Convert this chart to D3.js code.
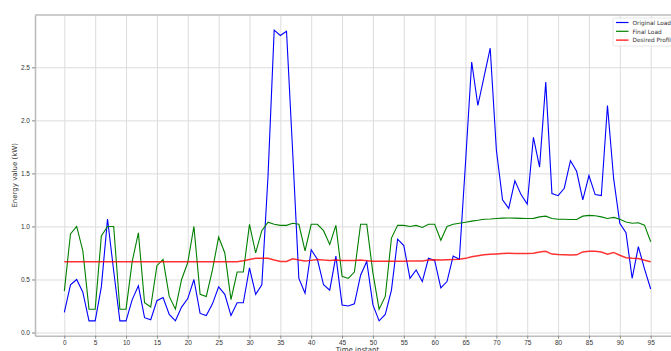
<!DOCTYPE html>
<html>
<head>
<meta charset="utf-8">
<script src="https://cdn.jsdelivr.net/npm/d3@7"></script>
<style>
  body { margin: 0; background: #fff; }
  svg { display: block; font-family: "DejaVu Sans", sans-serif; }
  .axis text { fill: #333; font-size: 6.5px; }
  .axis path { stroke: #bdbdbd; stroke-width: 1.6; }
  .axis line { stroke: #888; }
  .grid line { stroke: #dcdcdc; stroke-width: 1; }
  .grid path { display: none; }
</style>
</head>
<body>
<svg id="chart" width="671" height="351"></svg>
<script>
// time instants 0..95
var instants = d3.range(96);

var originalLoad = [
  0.19, 0.45, 0.50, 0.38, 0.11, 0.11, 0.43, 1.07, 0.58, 0.11,
  0.11, 0.31, 0.44, 0.14, 0.12, 0.30, 0.33, 0.17, 0.11, 0.24,
  0.32, 0.50, 0.18, 0.16, 0.27, 0.43, 0.36, 0.16, 0.28, 0.28,
  0.61, 0.36, 0.45, 1.47, 2.85, 2.80, 2.84, 1.70, 0.51, 0.37,
  0.78, 0.69, 0.45, 0.40, 0.72, 0.26, 0.25, 0.27, 0.54, 0.67,
  0.26, 0.11, 0.17, 0.40, 0.88, 0.82, 0.51, 0.59, 0.48, 0.70,
  0.68, 0.42, 0.48, 0.72, 0.69, 1.60, 2.55, 2.14, 2.41, 2.68,
  1.72, 1.25, 1.17, 1.43, 1.30, 1.21, 1.84, 1.56, 2.36, 1.31,
  1.29, 1.36, 1.62, 1.52, 1.25, 1.48, 1.30, 1.29, 2.14, 1.45,
  1.03, 0.94, 0.51, 0.81, 0.60, 0.41
];

var finalLoad = [
  0.39, 0.93, 1.00, 0.77, 0.22, 0.22, 0.91, 1.00, 1.00, 0.22,
  0.22, 0.67, 0.94, 0.28, 0.24, 0.63, 0.69, 0.34, 0.22, 0.50,
  0.66, 1.00, 0.36, 0.34, 0.59, 0.90, 0.75, 0.31, 0.57, 0.57,
  1.02, 0.75, 0.96, 1.04, 1.02, 1.01, 1.01, 1.03, 1.02, 0.77,
  1.02, 1.02, 0.96, 0.83, 1.01, 0.53, 0.51, 0.57, 1.02, 1.02,
  0.56, 0.22, 0.34, 0.89, 1.01, 1.01, 1.00, 1.01, 0.99, 1.02,
  1.02, 0.87, 1.00, 1.02, 1.03, 1.04, 1.05, 1.058, 1.068, 1.07,
  1.075, 1.078, 1.08, 1.078, 1.076, 1.075, 1.076, 1.09, 1.097, 1.075,
  1.068, 1.068, 1.066, 1.066, 1.097, 1.104, 1.10, 1.09, 1.075, 1.085,
  1.068, 1.042, 1.03, 1.035, 1.012, 0.855
];

var desiredProfile = [
  0.667, 0.667, 0.667, 0.667, 0.667, 0.667, 0.667, 0.667, 0.667, 0.667,
  0.667, 0.667, 0.667, 0.667, 0.667, 0.667, 0.667, 0.667, 0.667, 0.667,
  0.667, 0.667, 0.667, 0.667, 0.667, 0.667, 0.667, 0.667, 0.667, 0.676,
  0.689, 0.70, 0.70, 0.70, 0.683, 0.67, 0.67, 0.695, 0.683, 0.675,
  0.68, 0.688, 0.683, 0.68, 0.683, 0.68, 0.68, 0.68, 0.683, 0.677,
  0.671, 0.671, 0.671, 0.671, 0.671, 0.671, 0.673, 0.673, 0.675, 0.683,
  0.686, 0.683, 0.686, 0.689, 0.69, 0.699, 0.714, 0.723, 0.733, 0.737,
  0.74, 0.744, 0.747, 0.745, 0.744, 0.744, 0.748, 0.758, 0.766, 0.739,
  0.735, 0.733, 0.73, 0.732, 0.76, 0.766, 0.766, 0.758, 0.739, 0.755,
  0.728, 0.705, 0.70, 0.697, 0.682, 0.667
];

var seriesNames = ["Original Load", "Final Load", "Desired Profile"];
var seriesColors = ["#0000ff", "#008000", "#ff0000"];
var xTicks = d3.range(0, 96, 5);
var yTicks = [0.0, 0.5, 1.0, 1.5, 2.0, 2.5];

var svg = d3.select("#chart");
var margin = {left: 35, top: 15, right: 680, bottom: 335.7};

var x = d3.scaleLinear().domain([-4.75, 99.75]).range([margin.left, margin.right]);
var y = d3.scaleLinear().domain([-0.03, 2.993]).range([margin.bottom, margin.top]);

// grid
svg.append("g").attr("class", "grid")
  .attr("transform", "translate(0," + margin.bottom + ")")
  .call(d3.axisBottom(x).tickValues(xTicks).tickSize(-(margin.bottom - margin.top)).tickFormat(""));
svg.append("g").attr("class", "grid")
  .attr("transform", "translate(" + margin.left + ",0)")
  .call(d3.axisLeft(y).tickValues(yTicks).tickSize(-(margin.right - margin.left)).tickFormat(""));

// lines
var line = d3.line().x(function(d, i) { return x(instants[i]); }).y(function(d) { return y(d); });
[originalLoad, finalLoad, desiredProfile].forEach(function(vals, k) {
  svg.append("path")
    .datum(vals)
    .attr("fill", "none")
    .attr("stroke", seriesColors[k])
    .attr("stroke-width", k === 2 ? 1.5 : 1.1)
    .attr("stroke-opacity", k === 2 ? 0.8 : 1)
    .attr("d", line);
});

// spines
svg.append("line").attr("x1", margin.left).attr("x2", margin.right)
  .attr("y1", margin.top).attr("y2", margin.top)
  .attr("stroke", "#bdbdbd").attr("stroke-width", 1.6);

// axes
svg.append("g").attr("class", "axis")
  .attr("transform", "translate(0," + margin.bottom + ")")
  .call(d3.axisBottom(x).tickValues(xTicks).tickSize(3).tickPadding(2).tickSizeOuter(0));
svg.append("g").attr("class", "axis")
  .attr("transform", "translate(" + margin.left + ",0)")
  .call(d3.axisLeft(y).tickValues(yTicks).tickSize(3).tickPadding(2).tickSizeOuter(0)
    .tickFormat(d3.format(".1f")));

// axis labels
svg.append("text")
  .attr("x", (margin.left + margin.right) / 2).attr("y", 352)
  .attr("text-anchor", "middle").attr("font-size", 7).attr("fill", "#333")
  .text("Time instant");
svg.append("text")
  .attr("transform", "translate(17," + ((margin.top + margin.bottom) / 2) + ") rotate(-90)")
  .attr("text-anchor", "middle").attr("font-size", 7).attr("fill", "#333")
  .text("Energy value (kW)");

// legend
var legend = svg.append("g").attr("transform", "translate(613,18)");
legend.append("rect")
  .attr("width", 70).attr("height", 28).attr("rx", 2)
  .attr("fill", "#fff").attr("fill-opacity", 0.8)
  .attr("stroke", "#e0e0e0").attr("stroke-width", 0.8);
seriesNames.forEach(function(name, k) {
  var ly = 4.5 + k * 8.8;
  legend.append("line")
    .attr("x1", 3).attr("x2", 15.5).attr("y1", ly).attr("y2", ly)
    .attr("stroke", seriesColors[k]).attr("stroke-width", 1.2);
  legend.append("text")
    .attr("x", 19.5).attr("y", ly + 2.2)
    .attr("font-size", 5.8).attr("fill", "#333")
    .text(name);
});
</script>
</body>
</html>
